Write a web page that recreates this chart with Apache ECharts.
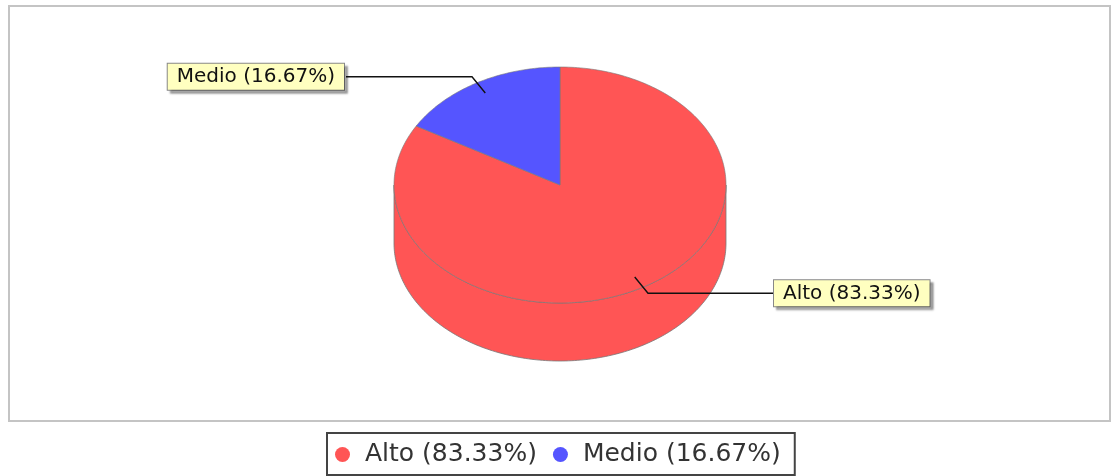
<!DOCTYPE html>
<html>
<head>
<meta charset="utf-8">
<script src="https://cdn.jsdelivr.net/npm/echarts@6/dist/echarts.min.js"></script>
<style>
  html, body { margin: 0; padding: 0; background: #fff; }
  #chart { width: 1113px; height: 476px; }
</style>
</head>
<body>
<div id="chart"></div>
<script>
// data
var categories = ['Alto', 'Medio']
var values = [83.33, 16.67]
var colors = ['#FF5555', '#5555FF']

// layout of the 3d pie
var cx = 560
var cy = 185
var rx = 166
var ry = 118
var depth = 58
var labelGap = 214

var total = values.reduce(function (a, b) { return a + b }, 0)
var names = categories.map(function (c, i) {
  return c + ' (' + (values[i] / total * 100).toFixed(2) + '%)'
})

function pt (a, k, dy) {
  var r = a * Math.PI / 180
  return [cx + rx * k * Math.cos(r), cy - ry * k * Math.sin(r) + (dy || 0)]
}

function arc (from, to, k, dy) {
  var pts = []
  var n = Math.max(2, Math.ceil(Math.abs(to - from)))
  for (var i = 0; i <= n; i++) {
    pts.push(pt(from + (to - from) * i / n, k, dy))
  }
  return pts
}

function makeRender (idx) {
  return function (params, api) {
    var before = 0
    for (var j = 0; j < idx; j++) before += values[j]
    var a0 = 90 - 360 * before / total
    var a1 = a0 - 360 * api.value(0) / total
    var children = []

    // front side wall (angles where sin < 0)
    for (var k = -2; k <= 1; k++) {
      var lo = Math.max(a1, 180 + 360 * k)
      var hi = Math.min(a0, 360 + 360 * k)
      if (hi > lo) {
        var side = arc(lo, hi, 1, 0).concat(arc(hi, lo, 1, depth))
        children.push({
          type: 'polygon',
          z2: 1,
          shape: { points: side },
          style: { fill: colors[idx], stroke: 'rgba(120,120,120,0.8)', lineWidth: 1 }
        })
      }
    }

    // top face
    var top = [[cx, cy]].concat(arc(a0, a1, 1, 0))
    children.push({
      type: 'polygon',
      z2: 10,
      shape: { points: top },
      style: { fill: colors[idx], stroke: 'rgba(120,120,120,0.6)', lineWidth: 1 }
    })

    // label with link line
    var am = (a0 + a1) / 2
    var p1 = pt(am, 0.9)
    var p2 = pt(am, 1.06)
    var left = Math.cos(am * Math.PI / 180) < 0
    var lx = left ? cx - labelGap : cx + labelGap
    children.push({
      type: 'polyline',
      z2: 20,
      shape: { points: [p1, p2, [lx, p2[1]]] },
      style: { stroke: '#111', lineWidth: 1.4, fill: null }
    })
    children.push({
      type: 'text',
      z2: 21,
      style: {
        text: names[idx],
        x: left ? lx - 2 : lx,
        y: p2[1],
        align: left ? 'right' : 'left',
        verticalAlign: 'middle',
        font: '20px "DejaVu Sans"',
        fill: '#111',
        backgroundColor: '#FFFFC0',
        borderColor: '#888',
        borderWidth: 1,
        padding: [3, 9, 3, 9],
        shadowColor: 'rgba(0,0,0,0.3)',
        shadowOffsetX: 3,
        shadowOffsetY: 3,
        shadowBlur: 2
      }
    })
    return { type: 'group', children: children }
  }
}

var series = categories.map(function (c, i) {
  return {
    type: 'custom',
    name: names[i],
    coordinateSystem: 'none',
    silent: true,
    itemStyle: { color: colors[i] },
    data: [values[i]],
    renderItem: makeRender(i)
  }
})

var myChart = echarts.init(document.getElementById('chart'))
var option = {
  animation: false,
  color: colors,
  graphic: [
    {
      type: 'rect',
      z: -1,
      shape: { x: 9, y: 6, width: 1101, height: 415 },
      style: { fill: '#fff', stroke: '#c4c4c4', lineWidth: 2 }
    }
  ],
  legend: {
    data: names,
    left: 327,
    top: 433,
    icon: 'circle',
    itemWidth: 15,
    itemHeight: 15,
    itemGap: 16,
    borderColor: '#444',
    borderWidth: 2,
    padding: [9, 14, 8, 8],
    textStyle: {
      fontFamily: 'DejaVu Sans',
      fontSize: 25,
      color: '#333',
      padding: [0, 0, 0, 10]
    }
  },
  series: series
}
myChart.setOption(option)
</script>
</body>
</html>
